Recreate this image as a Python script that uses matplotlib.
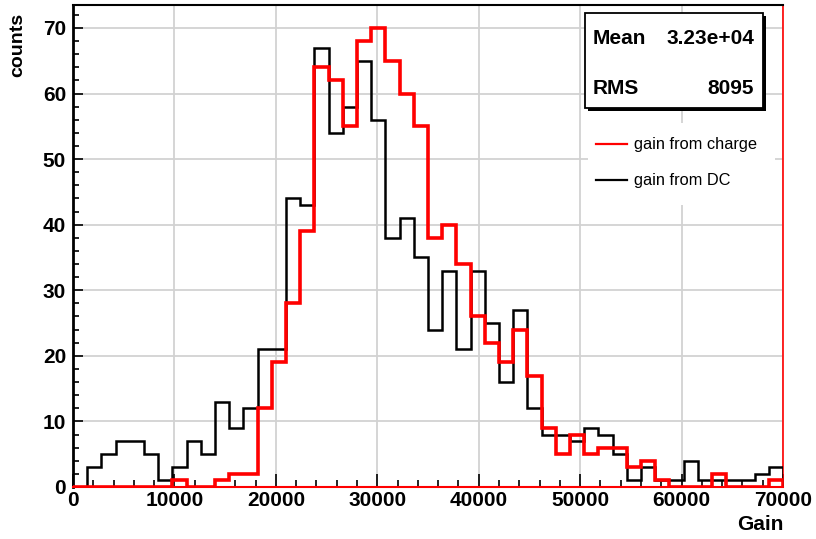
import numpy as np
import matplotlib
matplotlib.use('Agg')
import matplotlib.pyplot as plt
from matplotlib.patches import Rectangle
from matplotlib.lines import Line2D

plt.rcParams['font.family'] = ['Liberation Sans', 'DejaVu Sans']

# Histogram contents: 50 bins from 0 to 70000
x_min, x_max, n_bins = 0, 70000, 50
gain_dc = [0, 3, 5, 7, 7, 5, 1, 3, 7, 5,
           13, 9, 12, 21, 21, 44, 43, 67, 54, 58,
           65, 56, 38, 41, 35, 24, 33, 21, 33, 25,
           16, 27, 12, 8, 8, 7, 9, 8, 5, 1,
           3, 1, 1, 4, 1, 1, 1, 1, 2, 3]
gain_charge = [0, 0, 0, 0, 0, 0, 0, 1, 0, 0,
               1, 2, 2, 12, 19, 28, 39, 64, 62, 55,
               68, 70, 65, 60, 55, 38, 40, 34, 26, 22,
               19, 24, 17, 9, 5, 8, 5, 6, 6, 3,
               4, 1, 0, 0, 0, 2, 0, 0, 0, 1]
stat_labels = ['Mean', 'RMS']
stat_values = ['3.23e+04', '8095']
legend_labels = ['gain from charge', 'gain from DC']

W, H = 816, 539
edges = np.linspace(x_min, x_max, n_bins + 1)

fig = plt.figure(figsize=(W / 100, H / 100), dpi=100)
ax = fig.add_axes([73 / W, 52 / H, 710 / W, 482 / H])


def fx(x):
    return x / W


def fy(y):
    return 1 - y / H


ax.stairs(gain_dc, edges, baseline=0, color='black', linewidth=1.8, zorder=3)
ax.stairs(gain_charge, edges, baseline=0, color='red', linewidth=2.6, zorder=4)

ax.set_xlim(x_min, x_max)
ax.set_ylim(0, 73.5)
ax.set_xticks(np.arange(0, 70001, 10000))
ax.set_xticks(np.arange(0, 70001, 2000), minor=True)
ax.set_yticks(np.arange(0, 71, 10))
ax.set_yticks(np.arange(0, 73, 2), minor=True)
ax.grid(True, which='major', color='#d2d2d2', linewidth=1.3)
ax.set_axisbelow(True)

ax.tick_params(axis='x', which='major', direction='in', length=9.5, width=1.2,
               labelsize=15, pad=3)
ax.tick_params(axis='x', which='minor', direction='in', length=5, width=1.2)
ax.tick_params(axis='y', which='major', direction='in', length=7, width=1.2,
               labelsize=15, pad=5)
ax.tick_params(axis='y', which='minor', direction='in', length=4, width=1.2)
for lab in ax.get_xticklabels() + ax.get_yticklabels():
    lab.set_fontweight('bold')

ax.spines['left'].set_color('black')
ax.spines['left'].set_linewidth(2)
ax.spines['bottom'].set_color('red')
ax.spines['bottom'].set_linewidth(1.5)
ax.spines['right'].set_color('red')
ax.spines['right'].set_linewidth(1.2)
ax.spines['top'].set_color('black')
ax.spines['top'].set_linewidth(1.5)

fig.text(fx(783), fy(524), 'Gain', ha='right', va='center',
         fontsize=15, fontweight='bold')
fig.text(fx(18), fy(45), 'counts', ha='center', va='center', rotation=90,
         fontsize=14, fontweight='bold')

# statistics box with drop shadow
fig.add_artist(Rectangle((fx(588), fy(111)), (763 - 585) / W, (108 - 13) / H,
                         facecolor='black', edgecolor='none', zorder=5))
fig.add_artist(Rectangle((fx(585), fy(108)), (763 - 585) / W, (108 - 13) / H,
                         facecolor='white', edgecolor='black', linewidth=1.3,
                         zorder=6))
for lab, val, yy in zip(stat_labels, stat_values, [39, 88]):
    fig.text(fx(593), fy(yy), lab, ha='left', va='center', fontsize=15,
             fontweight='bold', zorder=7)
    fig.text(fx(754), fy(yy), val, ha='right', va='center', fontsize=15,
             fontweight='bold', zorder=7)

# legend
fig.add_artist(Rectangle((fx(588), fy(205)), (775 - 588) / W, (205 - 123) / H,
                         facecolor='white', edgecolor='none', zorder=5))
for lab, col, yy in zip(legend_labels, ['red', 'black'], [144, 180]):
    fig.add_artist(Line2D([fx(596), fx(627)], [fy(yy), fy(yy)], color=col,
                          linewidth=1.6, zorder=6))
    fig.text(fx(634), fy(yy), lab, ha='left', va='center', fontsize=11.8,
             zorder=7)

fig.savefig('out.png', dpi=100)
